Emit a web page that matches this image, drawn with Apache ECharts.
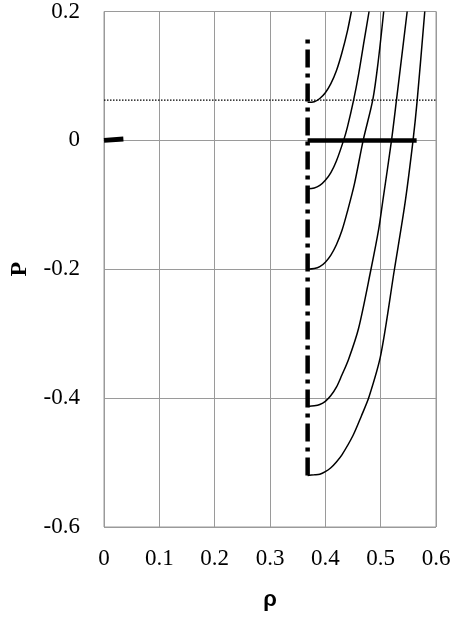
<!DOCTYPE html>
<html><head><meta charset="utf-8">
<script src="https://cdn.jsdelivr.net/npm/echarts@6/dist/echarts.min.js"></script>
<style>html,body{margin:0;padding:0;background:#fff}#c{width:454px;height:617px}</style>
</head><body><div id="c"></div>
<script>
// tick labels
const xTickLabels = ['0','0.1','0.2','0.3','0.4','0.5','0.6'];
const yTickLabels = ['-0.6','-0.4','-0.2','0','0.2'];

// reference lines
const dottedLevel = [[0, 0.0625], [0.6, 0.0625]];
const spinodal = [[0.368, -0.52], [0.368, 0.166]];
const coexist = [[0.368, 0], [0.565, 0]];
const lowBranch = [[0, 0], [0.035, 0.002]];

// curves (rho, P)
const curveA = [[0.368,0.059],[0.38,0.060],[0.39,0.065],[0.40,0.074],[0.41,0.088],[0.42,0.108],[0.43,0.136],[0.44,0.170],[0.447,0.2]];
const curveB = [[0.368,-0.075],[0.38,-0.074],[0.39,-0.070],[0.40,-0.062],[0.41,-0.050],[0.42,-0.032],[0.433,0],[0.44,0.021],[0.451,0.062],[0.46,0.102],[0.47,0.154],[0.479,0.2]];
const curveC = [[0.368,-0.2],[0.38,-0.199],[0.39,-0.196],[0.40,-0.189],[0.41,-0.178],[0.42,-0.162],[0.43,-0.14],[0.44,-0.11],[0.4525,-0.068],[0.4684,0],[0.486,0.064],[0.4955,0.122],[0.5055,0.2]];
const curveD = [[0.368,-0.413],[0.38,-0.412],[0.39,-0.410],[0.40,-0.405],[0.41,-0.396],[0.42,-0.383],[0.4295,-0.365],[0.4419,-0.340],[0.46,-0.292],[0.4825,-0.2],[0.4966,-0.137],[0.5037,-0.095],[0.5196,0],[0.5285,0.062],[0.5479,0.2]];
const curveE = [[0.368,-0.52],[0.38,-0.519],[0.39,-0.518],[0.40,-0.514],[0.41,-0.508],[0.42,-0.499],[0.43,-0.488],[0.45,-0.458],[0.465,-0.428],[0.479,-0.398],[0.5002,-0.333],[0.5249,-0.2],[0.5444,-0.095],[0.5585,0],[0.566,0.062],[0.5797,0.2]];

const gridGray = '#9a9a9a';
const serif = '"Liberation Serif", "DejaVu Serif", serif';

function lbl(list, min, step) {
  return function (v) { return list[Math.round((v - min) / step)] || ''; };
}
function curve(d) {
  return { type: 'line', data: d, showSymbol: false, smooth: 0.3, clip: true,
    lineStyle: { color: '#000', width: 1.5 }, silent: true };
}

const chart = echarts.init(document.getElementById('c'), null, { renderer: 'canvas' });
chart.setOption({
  animation: false,
  backgroundColor: '#fff',
  grid: { left: 97, right: 18, top: 11, bottom: 90, show: true, borderColor: gridGray, borderWidth: 1 },
  xAxis: {
    type: 'value', min: 0, max: 0.6, interval: 0.1,
    name: 'ρ', nameLocation: 'middle', nameGap: 62,
    nameTextStyle: { fontFamily: '"Liberation Sans", Arial, sans-serif', fontWeight: 'bold', fontSize: 22, color: '#000' },
    axisLine: { lineStyle: { color: gridGray, width: 1 } },
    axisTick: { show: false },
    axisLabel: { formatter: lbl(xTickLabels, 0, 0.1), fontFamily: serif, fontSize: 23, color: '#000', margin: 20 },
    splitLine: { show: true, lineStyle: { color: gridGray, width: 1 } }
  },
  yAxis: {
    type: 'value', min: -0.6, max: 0.2, interval: 0.2,
    name: 'P', nameLocation: 'middle', nameGap: 72, nameRotate: 90,
    nameTextStyle: { fontFamily: serif, fontWeight: 'bold', fontSize: 24, color: '#000' },
    axisLine: { lineStyle: { color: gridGray, width: 1 } },
    axisTick: { show: false },
    axisLabel: { formatter: lbl(yTickLabels, -0.6, 0.2), fontFamily: serif, fontSize: 23, color: '#000', margin: 24 },
    splitLine: { show: true, lineStyle: { color: gridGray, width: 1 } }
  },
  series: [
    { type: 'line', data: dottedLevel, showSymbol: false, lineStyle: { color: '#000', width: 1.3, type: [1.5, 1.5] } },
    curve(curveA), curve(curveB), curve(curveC), curve(curveD), curve(curveE),
    { type: 'line', data: coexist, showSymbol: false, lineStyle: { color: '#000', width: 4.5 } },
    { type: 'line', data: lowBranch, showSymbol: false, lineStyle: { color: '#000', width: 5 } },
    { type: 'line', data: spinodal, showSymbol: false, lineStyle: { color: '#000', width: 4.5, type: [18, 6, 4, 6] } }
  ]
});
</script>
</body></html>
